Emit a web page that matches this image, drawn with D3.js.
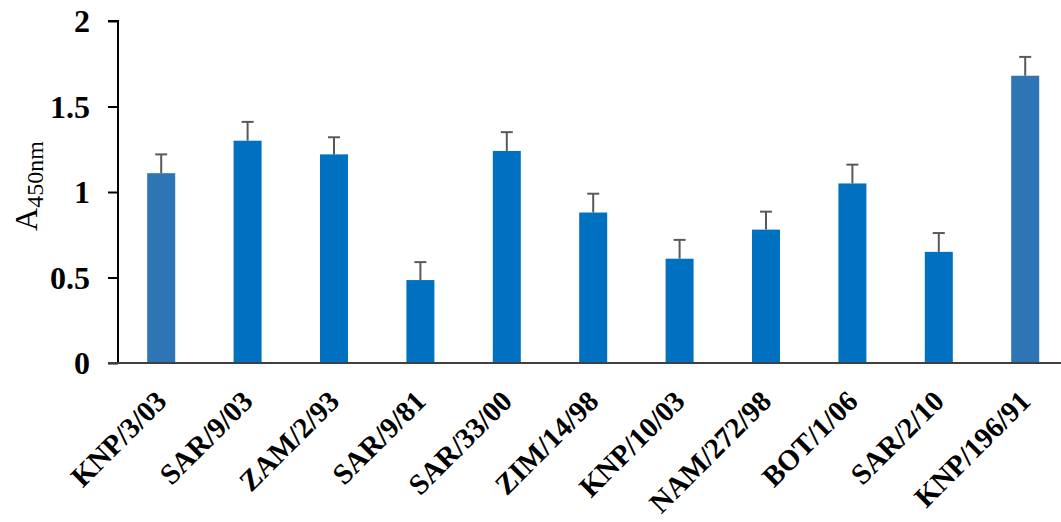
<!DOCTYPE html>
<html>
<head>
<meta charset="utf-8">
<script src="https://cdn.jsdelivr.net/npm/d3@7"></script>
<style>
  body { margin: 0; background: #fff; }
  svg { display: block; }
  text { font-family: "Liberation Serif", "Times New Roman", serif; }
</style>
</head>
<body>
<svg id="chart" width="1061" height="522"></svg>
<script>
// Isolates and their mean absorbance with error (SD)
const isolates = ["KNP/3/03", "SAR/9/03", "ZAM/2/93", "SAR/9/81", "SAR/33/00", "ZIM/14/98",
                  "KNP/10/03", "NAM/272/98", "BOT/1/06", "SAR/2/10", "KNP/196/91"];
const absorbance = [1.11, 1.30, 1.22, 0.485, 1.24, 0.88, 0.61, 0.78, 1.05, 0.65, 1.68];
const errors = [0.11, 0.11, 0.10, 0.105, 0.11, 0.11, 0.11, 0.105, 0.11, 0.11, 0.11];
const yTicks = [0, 0.5, 1, 1.5, 2];

const svg = d3.select("#chart");
const margin = { left: 118, top: 21, bottom: 363 };

const x = d3.scaleBand()
  .domain(isolates)
  .range([margin.left, margin.left + 86.4 * isolates.length])
  .paddingInner(0.676)
  .paddingOuter(0.338);

const y = d3.scaleLinear().domain([0, 2]).range([margin.bottom, margin.top]);

// bars
svg.append("g").selectAll("rect")
  .data(isolates)
  .join("rect")
  .attr("x", d => x(d))
  .attr("width", x.bandwidth())
  .attr("y", (d, i) => y(absorbance[i]))
  .attr("height", (d, i) => y(0) - y(absorbance[i]))
  .attr("fill", (d, i) => (i === 0 || i === isolates.length - 1) ? "#2E75B6" : "#0070C0");

// error bars (upper only)
const eb = svg.append("g").attr("stroke", "#595959").attr("stroke-width", 2);
isolates.forEach((d, i) => {
  const cx = x(d) + x.bandwidth() / 2;
  const top = y(absorbance[i] + errors[i]);
  eb.append("line").attr("x1", cx).attr("x2", cx).attr("y1", y(absorbance[i])).attr("y2", top);
  eb.append("line").attr("x1", cx - 6).attr("x2", cx + 6).attr("y1", top).attr("y2", top);
});

// y axis
const yAxis = d3.axisLeft(y).tickValues(yTicks).tickSize(10).tickPadding(18)
  .tickFormat(d => d3.format("")(d));
const gy = svg.append("g").attr("transform", `translate(${margin.left},0)`).call(yAxis);
gy.select(".domain").attr("stroke", "#000").attr("stroke-width", 2).attr("d", `M-10,${y(2)}H0V${y(0)}`);
gy.selectAll(".tick line").attr("stroke", "#000").attr("stroke-width", 2);
gy.selectAll(".tick text")
  .attr("font-family", "Liberation Serif, serif")
  .attr("font-weight", "bold")
  .attr("font-size", 32)
  .attr("fill", "#000")
  .attr("dy", "0.34em");

// x axis baseline
const xAxis = d3.axisBottom(x).tickSize(0).tickPadding(0);
const gx = svg.append("g").attr("transform", `translate(0,${y(0)})`).call(xAxis);
gx.select(".domain").attr("stroke", "#404040").attr("stroke-width", 2)
  .attr("d", `M${margin.left - 10},0H1061`);
gx.selectAll(".tick text")
  .attr("font-family", "Liberation Serif, serif")
  .attr("font-weight", "bold")
  .attr("font-size", 29)
  .attr("fill", "#000")
  .attr("text-anchor", "end")
  .attr("y", 0)
  .attr("dy", 0)
  .attr("transform", "translate(7,40) rotate(-45)");

// y axis title: A with subscript 450nm
svg.append("text")
  .attr("transform", `translate(37,186) rotate(-90)`)
  .attr("text-anchor", "middle")
  .attr("fill", "#000")
  .call(t => {
    t.append("tspan").attr("font-size", 32).text("A");
    t.append("tspan").attr("font-size", 24).attr("dy", 6).text("450nm");
  });
</script>
</body>
</html>
